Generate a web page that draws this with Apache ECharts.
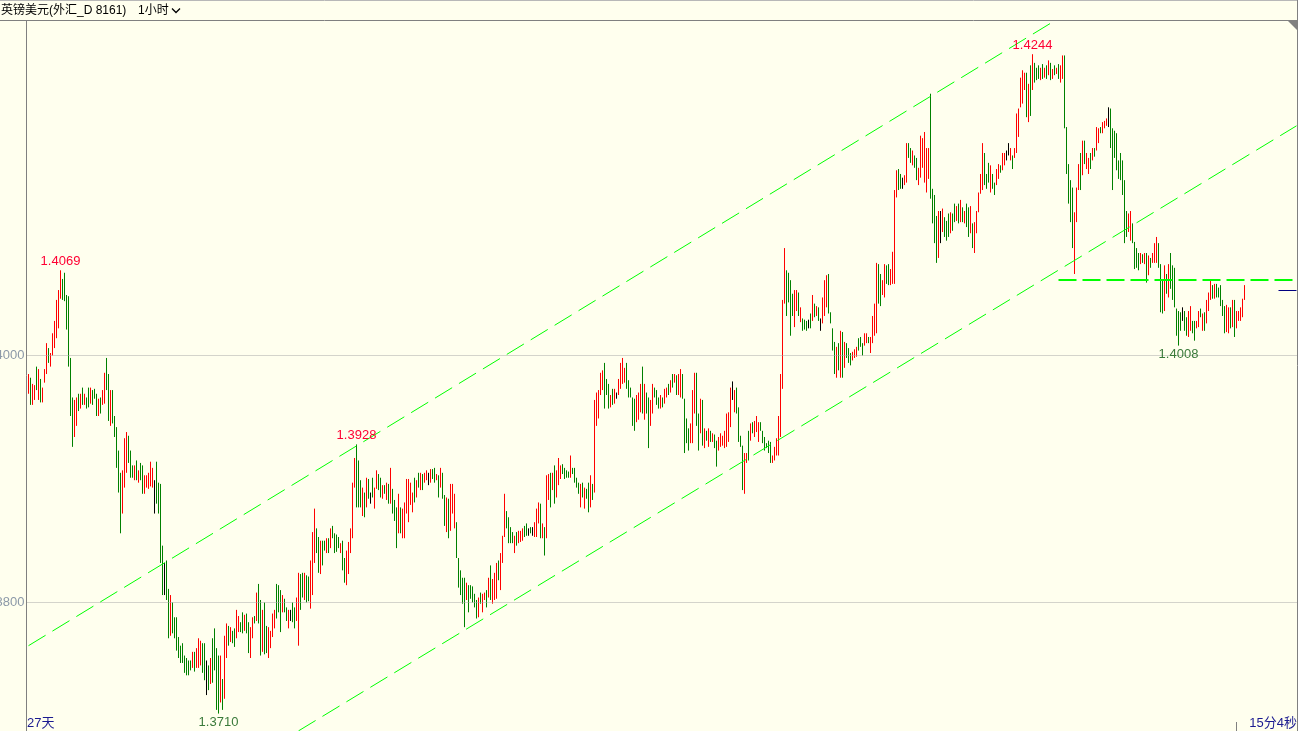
<!DOCTYPE html>
<html><head><meta charset="utf-8">
<script src="https://cdn.jsdelivr.net/npm/echarts@6/dist/echarts.min.js"></script>
<style>html,body{margin:0;padding:0;background:#FFFFEE;overflow:hidden;}#c{width:1298px;height:731px;}</style>
</head><body><div id="c"></div>
<script>
// GBP/USD hourly bars
const opens = [
1.3969,1.3982,1.3960,1.3964,1.3991,1.3964,1.3981,1.3962,1.3978,1.3985,
1.4006,1.3991,1.4000,1.4006,1.4014,1.4022,1.4046,1.4062,1.4067,1.4049,
1.4048,1.3998,1.3966,1.3934,1.3943,1.3969,1.3957,1.3974,1.3960,1.3966,
1.3974,1.3961,1.3972,1.3973,1.3969,1.3951,1.3966,1.3960,1.3961,1.3998,
1.3985,1.3943,1.3972,1.3951,1.3942,1.3923,1.3905,1.3872,1.3893,1.3905,
1.3935,1.3923,1.3911,1.3899,1.3915,1.3897,1.3913,1.3911,1.3888,1.3893,
1.3892,1.3894,1.3893,1.3885,1.3914,1.3897,1.3896,1.3846,1.3819,1.3834,
1.3811,1.3773,1.3800,1.3788,1.3788,1.3772,1.3765,1.3767,1.3757,1.3755,
1.3753,1.3753,1.3747,1.3760,1.3747,1.3747,1.3749,1.3767,1.3767,1.3739,
1.3749,1.3734,1.3771,1.3779,1.3763,1.3757,1.3719,1.3738,1.3722,1.3755,
1.3781,1.3768,1.3777,1.3779,1.3771,1.3776,1.3784,1.3792,1.3777,1.3791,
1.3784,1.3755,1.3771,1.3789,1.3785,1.3815,1.3802,1.3760,1.3800,1.3781,
1.3755,1.3763,1.3772,1.3779,1.3815,1.3814,1.3810,1.3792,1.3803,1.3796,
1.3779,1.3790,1.3800,1.3796,1.3785,1.3765,1.3823,1.3824,1.3802,1.3822,
1.3821,1.3795,1.3806,1.3832,1.3860,1.3853,1.3823,1.3850,1.3850,1.3840,
1.3852,1.3844,1.3862,1.3856,1.3855,1.3853,1.3840,1.3850,1.3836,1.3814,
1.3823,1.3840,1.3852,1.3893,1.3928,1.3915,1.3899,1.3870,1.3889,1.3877,
1.3900,1.3884,1.3901,1.3876,1.3892,1.3904,1.3901,1.3884,1.3895,1.3883,
1.3896,1.3880,1.3892,1.3883,1.3877,1.3856,1.3877,1.3852,1.3852,1.3872,
1.3865,1.3879,1.3873,1.3901,1.3885,1.3905,1.3891,1.3904,1.3897,1.3899,
1.3900,1.3897,1.3908,1.3909,1.3899,1.3903,1.3893,1.3905,1.3887,1.3857,
1.3884,1.3858,1.3872,1.3860,1.3865,1.3836,1.3826,1.3820,1.3820,1.3802,
1.3814,1.3814,1.3813,1.3807,1.3802,1.3788,1.3808,1.3792,1.3802,1.3810,
1.3804,1.3830,1.3799,1.3802,1.3803,1.3834,1.3810,1.3832,1.3853,1.3874,
1.3869,1.3861,1.3857,1.3840,1.3857,1.3848,1.3849,1.3850,1.3862,1.3864,
1.3857,1.3861,1.3857,1.3853,1.3853,1.3864,1.3880,1.3852,1.3861,1.3852,
1.3883,1.3905,1.3891,1.3911,1.3885,1.3895,1.3900,1.3912,1.3909,1.3907,
1.3906,1.3901,1.3909,1.3909,1.3901,1.3897,1.3877,1.3897,1.3876,1.3892,
1.3897,1.3877,1.3896,1.3889,1.3943,1.3949,1.3968,1.3972,1.3994,1.3981,
1.3977,1.3958,1.3973,1.3961,1.3967,1.3968,1.3973,1.3977,1.3978,1.3994,
1.3980,1.3974,1.3966,1.3965,1.3946,1.3948,1.3954,1.3991,1.3948,1.3970,
1.3966,1.3943,1.3953,1.3974,1.3972,1.3966,1.3957,1.3966,1.3961,1.3966,
1.3977,1.3970,1.3985,1.3978,1.3984,1.3968,1.3966,1.3985,1.3965,1.3949,
1.3941,1.3929,1.3929,1.3953,1.3986,1.3953,1.3937,1.3964,1.3925,1.3939,
1.3926,1.3939,1.3930,1.3936,1.3931,1.3923,1.3926,1.3927,1.3925,1.3926,
1.3930,1.3942,1.3971,1.3954,1.3974,1.3958,1.3935,1.3927,1.3888,1.3913,
1.3939,1.3931,1.3946,1.3934,1.3938,1.3930,1.3946,1.3939,1.3934,1.3929,
1.3931,1.3930,1.3913,1.3915,1.3919,1.3919,1.3934,1.3973,1.4042,1.4069,
1.4067,1.4061,1.4050,1.4023,1.4036,1.4051,1.4027,1.4030,1.4029,1.4028,
1.4025,1.4034,1.4028,1.4042,1.4032,1.4039,1.4025,1.4026,1.4032,1.4039,
1.4066,1.4035,1.4022,1.4011,1.3982,1.4010,1.3982,1.4019,1.3990,1.4010,
1.4006,1.4002,1.3996,1.3998,1.3999,1.4014,1.4015,1.4010,1.4008,1.4010,
1.4015,1.4002,1.4010,1.4016,1.4018,1.4074,1.4066,1.4049,1.4047,1.4073,
1.4074,1.4057,1.4058,1.4058,1.4128,1.4151,1.4147,1.4140,1.4138,1.4140,
1.4172,1.4168,1.4154,1.4162,1.4160,1.4138,1.4144,1.4152,1.4140,1.4132,
1.4143,1.4212,1.4135,1.4130,1.4113,1.4079,1.4104,1.4100,1.4112,1.4109,
1.4115,1.4099,1.4115,1.4123,1.4109,1.4123,1.4108,1.4120,1.4107,1.4123,
1.4120,1.4099,1.4107,1.4083,1.4099,1.4116,1.4131,1.4134,1.4164,1.4147,
1.4156,1.4132,1.4147,1.4140,1.4138,1.4143,1.4154,1.4150,1.4154,1.4162,
1.4167,1.4158,1.4162,1.4160,1.4164,1.4177,1.4201,1.4204,1.4215,1.4229,
1.4189,1.4235,1.4215,1.4237,1.4233,1.4235,1.4223,1.4236,1.4225,1.4235,
1.4227,1.4237,1.4224,1.4235,1.4228,1.4236,1.4221,1.4224,1.4243,1.4185,
1.4155,1.4142,1.4136,1.4066,1.4108,1.4134,1.4164,1.4146,1.4174,1.4151,
1.4147,1.4164,1.4158,1.4168,1.4166,1.4172,1.4185,1.4180,1.4184,1.4186,
1.4193,1.4200,1.4184,1.4182,1.4180,1.4158,1.4164,1.4158,1.4142,1.4117,
1.4100,1.4093,1.4107,1.4092,1.4087,1.4083,1.4074,1.4082,1.4074,1.4083,
1.4065,1.4079,1.4075,1.4075,1.4075,1.4091,1.4074,1.4061,1.4036,1.4066,
1.4047,1.4083,1.4073,1.4071,1.4038,1.4036,1.4035,1.4033,1.4036,1.4031,
1.4015,1.4020,1.4028,1.4028,1.4022,1.4023,1.4038,1.4020,1.4035,1.4026,
1.4036,1.4045,1.4057,1.4046,1.4058,1.4055,1.4057,1.4045,1.4040,1.4019,
1.4018,1.4039,1.4023,1.4045,1.4022,1.4028,1.4028,1.4031,1.4045
];
const highs = [
1.3985,1.3982,1.3977,1.3976,1.3991,1.3989,1.3981,1.3974,1.3989,1.4010,
1.4006,1.4002,1.4018,1.4028,1.4045,1.4053,1.4069,1.4062,1.4067,1.4049,
1.4048,1.3998,1.3966,1.3964,1.3966,1.3969,1.3969,1.3974,1.3969,1.3966,
1.3974,1.3974,1.3972,1.3973,1.3969,1.3965,1.3966,1.3972,1.3986,1.3998,
1.3985,1.3972,1.3972,1.3951,1.3942,1.3923,1.3905,1.3907,1.3933,1.3938,
1.3935,1.3923,1.3911,1.3911,1.3915,1.3907,1.3913,1.3911,1.3903,1.3903,
1.3905,1.3914,1.3909,1.3899,1.3914,1.3897,1.3896,1.3846,1.3832,1.3834,
1.3811,1.3806,1.3800,1.3788,1.3788,1.3772,1.3765,1.3767,1.3757,1.3755,
1.3753,1.3753,1.3760,1.3760,1.3763,1.3771,1.3769,1.3767,1.3767,1.3753,
1.3749,1.3755,1.3771,1.3779,1.3763,1.3757,1.3757,1.3738,1.3773,1.3783,
1.3781,1.3780,1.3777,1.3779,1.3794,1.3789,1.3784,1.3792,1.3790,1.3791,
1.3784,1.3780,1.3788,1.3789,1.3808,1.3815,1.3802,1.3794,1.3800,1.3781,
1.3780,1.3777,1.3791,1.3794,1.3815,1.3814,1.3810,1.3806,1.3803,1.3796,
1.3794,1.3794,1.3800,1.3796,1.3804,1.3824,1.3823,1.3824,1.3824,1.3822,
1.3821,1.3834,1.3857,1.3876,1.3860,1.3853,1.3850,1.3850,1.3850,1.3852,
1.3852,1.3860,1.3862,1.3856,1.3855,1.3853,1.3848,1.3850,1.3836,1.3842,
1.3849,1.3860,1.3897,1.3917,1.3928,1.3915,1.3899,1.3893,1.3889,1.3901,
1.3900,1.3889,1.3901,1.3893,1.3907,1.3904,1.3901,1.3895,1.3895,1.3897,
1.3896,1.3909,1.3892,1.3883,1.3877,1.3888,1.3877,1.3876,1.3881,1.3900,
1.3900,1.3897,1.3889,1.3901,1.3899,1.3905,1.3905,1.3904,1.3905,1.3907,
1.3905,1.3908,1.3908,1.3909,1.3904,1.3903,1.3909,1.3905,1.3887,1.3885,
1.3884,1.3896,1.3896,1.3888,1.3865,1.3836,1.3826,1.3820,1.3820,1.3816,
1.3814,1.3814,1.3813,1.3807,1.3802,1.3804,1.3808,1.3807,1.3808,1.3810,
1.3820,1.3830,1.3819,1.3824,1.3832,1.3834,1.3840,1.3854,1.3888,1.3874,
1.3869,1.3861,1.3857,1.3854,1.3857,1.3858,1.3858,1.3860,1.3862,1.3864,
1.3860,1.3861,1.3861,1.3865,1.3876,1.3881,1.3880,1.3864,1.3861,1.3903,
1.3904,1.3905,1.3905,1.3911,1.3907,1.3917,1.3911,1.3912,1.3909,1.3907,
1.3906,1.3919,1.3909,1.3909,1.3901,1.3897,1.3896,1.3897,1.3893,1.3892,
1.3897,1.3903,1.3896,1.3964,1.3970,1.3972,1.3986,1.3988,1.3994,1.3981,
1.3977,1.3968,1.3973,1.3973,1.3970,1.3981,1.3994,1.3998,1.3990,1.3994,
1.3980,1.3974,1.3966,1.3965,1.3968,1.3970,1.3977,1.3991,1.3977,1.3970,
1.3966,1.3964,1.3977,1.3974,1.3972,1.3966,1.3968,1.3966,1.3973,1.3974,
1.3977,1.3980,1.3985,1.3985,1.3984,1.3985,1.3989,1.3985,1.3965,1.3949,
1.3941,1.3945,1.3972,1.3986,1.3986,1.3953,1.3965,1.3964,1.3941,1.3939,
1.3941,1.3939,1.3937,1.3936,1.3931,1.3934,1.3937,1.3935,1.3939,1.3953,
1.3954,1.3974,1.3979,1.3972,1.3974,1.3958,1.3935,1.3927,1.3921,1.3921,
1.3939,1.3945,1.3946,1.3947,1.3951,1.3946,1.3946,1.3939,1.3934,1.3929,
1.3931,1.3930,1.3919,1.3926,1.3933,1.3951,1.3985,1.4045,1.4087,1.4069,
1.4067,1.4061,1.4050,1.4053,1.4053,1.4051,1.4039,1.4030,1.4029,1.4028,
1.4029,1.4034,1.4049,1.4042,1.4040,1.4039,1.4030,1.4047,1.4061,1.4065,
1.4066,1.4035,1.4022,1.4011,1.4007,1.4010,1.4020,1.4019,1.4011,1.4010,
1.4006,1.4002,1.4003,1.4005,1.4007,1.4014,1.4015,1.4010,1.4018,1.4018,
1.4015,1.4015,1.4032,1.4042,1.4075,1.4074,1.4066,1.4061,1.4074,1.4073,
1.4074,1.4070,1.4084,1.4134,1.4150,1.4151,1.4147,1.4144,1.4146,1.4172,
1.4172,1.4168,1.4166,1.4162,1.4160,1.4152,1.4178,1.4176,1.4181,1.4168,
1.4168,1.4212,1.4135,1.4130,1.4113,1.4117,1.4117,1.4119,1.4112,1.4109,
1.4115,1.4116,1.4115,1.4123,1.4121,1.4123,1.4126,1.4120,1.4117,1.4123,
1.4120,1.4121,1.4107,1.4108,1.4117,1.4132,1.4147,1.4172,1.4164,1.4147,
1.4156,1.4154,1.4147,1.4140,1.4151,1.4155,1.4154,1.4164,1.4164,1.4166,
1.4172,1.4168,1.4162,1.4168,1.4196,1.4200,1.4225,1.4231,1.4229,1.4229,
1.4220,1.4235,1.4244,1.4237,1.4233,1.4235,1.4233,1.4236,1.4233,1.4235,
1.4239,1.4237,1.4232,1.4235,1.4233,1.4236,1.4235,1.4243,1.4243,1.4185,
1.4155,1.4142,1.4136,1.4116,1.4136,1.4155,1.4164,1.4174,1.4174,1.4164,
1.4160,1.4164,1.4168,1.4168,1.4185,1.4184,1.4185,1.4189,1.4190,1.4192,
1.4201,1.4200,1.4184,1.4182,1.4180,1.4158,1.4164,1.4158,1.4142,1.4117,
1.4115,1.4117,1.4107,1.4092,1.4087,1.4083,1.4083,1.4082,1.4083,1.4083,
1.4081,1.4079,1.4083,1.4091,1.4096,1.4091,1.4074,1.4061,1.4073,1.4066,
1.4074,1.4083,1.4073,1.4071,1.4038,1.4036,1.4035,1.4039,1.4036,1.4031,
1.4036,1.4040,1.4028,1.4028,1.4028,1.4036,1.4038,1.4034,1.4035,1.4045,
1.4051,1.4061,1.4057,1.4058,1.4058,1.4055,1.4057,1.4045,1.4040,1.4041,
1.4039,1.4039,1.4045,1.4045,1.4036,1.4036,1.4039,1.4046,1.4057
];
const lows = [
1.3969,1.3960,1.3960,1.3964,1.3972,1.3964,1.3962,1.3962,1.3978,1.3985,
1.3994,1.3991,1.4000,1.4006,1.4014,1.4022,1.4046,1.4045,1.4044,1.4021,
1.3991,1.3951,1.3926,1.3934,1.3943,1.3955,1.3957,1.3960,1.3960,1.3957,
1.3958,1.3961,1.3960,1.3965,1.3951,1.3951,1.3953,1.3960,1.3961,1.3972,
1.3947,1.3943,1.3945,1.3934,1.3909,1.3889,1.3856,1.3872,1.3893,1.3905,
1.3913,1.3901,1.3901,1.3899,1.3899,1.3897,1.3899,1.3888,1.3888,1.3893,
1.3892,1.3894,1.3893,1.3872,1.3880,1.3872,1.3832,1.3806,1.3806,1.3802,
1.3771,1.3773,1.3775,1.3771,1.3761,1.3755,1.3751,1.3751,1.3743,1.3741,
1.3741,1.3745,1.3747,1.3744,1.3747,1.3747,1.3749,1.3743,1.3737,1.3725,
1.3729,1.3734,1.3735,1.3745,1.3713,1.3710,1.3719,1.3713,1.3722,1.3755,
1.3765,1.3768,1.3767,1.3764,1.3771,1.3776,1.3776,1.3775,1.3777,1.3775,
1.3759,1.3755,1.3771,1.3783,1.3785,1.3783,1.3757,1.3760,1.3758,1.3759,
1.3755,1.3763,1.3772,1.3779,1.3787,1.3792,1.3776,1.3792,1.3792,1.3785,
1.3779,1.3785,1.3784,1.3779,1.3785,1.3765,1.3794,1.3804,1.3802,1.3800,
1.3801,1.3795,1.3806,1.3832,1.3840,1.3824,1.3823,1.3830,1.3842,1.3840,
1.3840,1.3844,1.3852,1.3840,1.3841,1.3844,1.3840,1.3826,1.3816,1.3814,
1.3823,1.3840,1.3852,1.3893,1.3877,1.3877,1.3877,1.3870,1.3869,1.3877,
1.3884,1.3880,1.3885,1.3876,1.3892,1.3891,1.3885,1.3884,1.3888,1.3883,
1.3880,1.3880,1.3872,1.3866,1.3844,1.3856,1.3856,1.3852,1.3852,1.3872,
1.3865,1.3879,1.3873,1.3881,1.3885,1.3893,1.3891,1.3891,1.3897,1.3899,
1.3895,1.3897,1.3900,1.3897,1.3899,1.3885,1.3893,1.3884,1.3862,1.3857,
1.3852,1.3858,1.3872,1.3860,1.3836,1.3812,1.3806,1.3799,1.3780,1.3802,
1.3792,1.3803,1.3800,1.3796,1.3787,1.3788,1.3799,1.3792,1.3802,1.3796,
1.3804,1.3802,1.3799,1.3802,1.3803,1.3818,1.3810,1.3832,1.3853,1.3860,
1.3848,1.3848,1.3848,1.3840,1.3846,1.3848,1.3849,1.3850,1.3853,1.3854,
1.3854,1.3856,1.3854,1.3853,1.3853,1.3864,1.3852,1.3852,1.3838,1.3852,
1.3883,1.3877,1.3891,1.3880,1.3885,1.3895,1.3900,1.3904,1.3900,1.3901,
1.3901,1.3901,1.3904,1.3897,1.3893,1.3888,1.3877,1.3885,1.3876,1.3884,
1.3873,1.3877,1.3883,1.3889,1.3943,1.3949,1.3968,1.3972,1.3957,1.3968,
1.3957,1.3958,1.3960,1.3961,1.3965,1.3968,1.3973,1.3977,1.3978,1.3973,
1.3966,1.3966,1.3943,1.3939,1.3946,1.3948,1.3954,1.3953,1.3948,1.3953,
1.3925,1.3943,1.3953,1.3966,1.3960,1.3957,1.3957,1.3958,1.3961,1.3966,
1.3968,1.3970,1.3974,1.3978,1.3968,1.3968,1.3966,1.3965,1.3921,1.3929,
1.3923,1.3929,1.3929,1.3953,1.3943,1.3923,1.3937,1.3927,1.3925,1.3931,
1.3926,1.3930,1.3930,1.3925,1.3910,1.3923,1.3926,1.3927,1.3925,1.3926,
1.3930,1.3942,1.3964,1.3954,1.3953,1.3930,1.3926,1.3891,1.3888,1.3913,
1.3915,1.3931,1.3937,1.3934,1.3938,1.3930,1.3939,1.3929,1.3923,1.3925,
1.3921,1.3913,1.3913,1.3915,1.3919,1.3919,1.3934,1.3973,1.4042,1.4032,
1.4043,1.4016,1.4032,1.4023,1.4036,1.4032,1.4027,1.4020,1.4021,1.4020,
1.4022,1.4022,1.4028,1.4031,1.4032,1.4028,1.4020,1.4026,1.4032,1.4039,
1.4034,1.4026,1.4004,1.3985,1.3982,1.3988,1.3982,1.3982,1.3990,1.3998,
1.3994,1.3992,1.3996,1.3998,1.3999,1.4004,1.4007,1.4000,1.4008,1.4010,
1.4010,1.4002,1.4010,1.4016,1.4018,1.4042,1.4040,1.4049,1.4047,1.4058,
1.4057,1.4057,1.4058,1.4058,1.4128,1.4134,1.4135,1.4135,1.4138,1.4140,
1.4160,1.4156,1.4154,1.4152,1.4142,1.4138,1.4144,1.4152,1.4140,1.4132,
1.4143,1.4127,1.4107,1.4091,1.4075,1.4079,1.4091,1.4100,1.4096,1.4093,
1.4096,1.4099,1.4101,1.4108,1.4109,1.4107,1.4108,1.4108,1.4107,1.4104,
1.4096,1.4099,1.4087,1.4083,1.4099,1.4116,1.4131,1.4134,1.4138,1.4135,
1.4140,1.4132,1.4135,1.4130,1.4138,1.4143,1.4148,1.4150,1.4154,1.4158,
1.4162,1.4158,1.4151,1.4160,1.4164,1.4177,1.4201,1.4204,1.4215,1.4193,
1.4189,1.4194,1.4215,1.4221,1.4223,1.4224,1.4223,1.4224,1.4225,1.4224,
1.4227,1.4223,1.4224,1.4227,1.4228,1.4224,1.4221,1.4224,1.4184,1.4147,
1.4123,1.4108,1.4087,1.4066,1.4108,1.4134,1.4134,1.4146,1.4155,1.4151,
1.4147,1.4151,1.4158,1.4161,1.4166,1.4172,1.4180,1.4180,1.4184,1.4186,
1.4185,1.4168,1.4134,1.4160,1.4150,1.4143,1.4142,1.4130,1.4091,1.4096,
1.4100,1.4093,1.4091,1.4070,1.4071,1.4069,1.4074,1.4075,1.4074,1.4059,
1.4065,1.4071,1.4075,1.4075,1.4075,1.4071,1.4035,1.4034,1.4036,1.4050,
1.4047,1.4054,1.4045,1.4039,1.4016,1.4008,1.4020,1.4028,1.4020,1.4016,
1.4015,1.4020,1.4018,1.4012,1.4022,1.4023,1.4031,1.4020,1.4020,1.4026,
1.4036,1.4045,1.4046,1.4046,1.4047,1.4047,1.4040,1.4032,1.4018,1.4019,
1.4018,1.4022,1.4023,1.4015,1.4022,1.4028,1.4028,1.4031,1.4045
];
const closes = [
1.3985,1.3960,1.3977,1.3976,1.3972,1.3989,1.3962,1.3974,1.3989,1.4010,
1.3994,1.4002,1.4018,1.4028,1.4045,1.4053,1.4069,1.4045,1.4044,1.4021,
1.3991,1.3951,1.3926,1.3964,1.3966,1.3955,1.3969,1.3960,1.3969,1.3957,
1.3958,1.3974,1.3960,1.3965,1.3951,1.3965,1.3953,1.3972,1.3986,1.3972,
1.3947,1.3972,1.3945,1.3934,1.3909,1.3889,1.3856,1.3907,1.3933,1.3938,
1.3913,1.3901,1.3901,1.3911,1.3899,1.3907,1.3899,1.3888,1.3903,1.3903,
1.3905,1.3914,1.3909,1.3885,1.3880,1.3872,1.3832,1.3806,1.3819,1.3802,
1.3771,1.3806,1.3775,1.3771,1.3761,1.3755,1.3751,1.3751,1.3743,1.3741,
1.3741,1.3745,1.3760,1.3744,1.3763,1.3771,1.3769,1.3743,1.3737,1.3739,
1.3729,1.3755,1.3735,1.3745,1.3713,1.3710,1.3757,1.3713,1.3773,1.3783,
1.3765,1.3780,1.3767,1.3764,1.3794,1.3789,1.3776,1.3775,1.3790,1.3775,
1.3759,1.3780,1.3788,1.3783,1.3808,1.3783,1.3757,1.3794,1.3758,1.3759,
1.3780,1.3777,1.3791,1.3794,1.3787,1.3792,1.3776,1.3806,1.3792,1.3785,
1.3794,1.3790,1.3784,1.3779,1.3804,1.3824,1.3794,1.3804,1.3824,1.3800,
1.3801,1.3834,1.3857,1.3876,1.3840,1.3824,1.3850,1.3830,1.3842,1.3852,
1.3840,1.3860,1.3852,1.3840,1.3841,1.3844,1.3848,1.3826,1.3816,1.3842,
1.3849,1.3860,1.3897,1.3917,1.3877,1.3877,1.3877,1.3893,1.3869,1.3901,
1.3884,1.3884,1.3885,1.3893,1.3907,1.3891,1.3885,1.3895,1.3888,1.3897,
1.3880,1.3909,1.3872,1.3866,1.3844,1.3888,1.3856,1.3876,1.3881,1.3900,
1.3900,1.3897,1.3889,1.3881,1.3899,1.3893,1.3905,1.3891,1.3905,1.3907,
1.3900,1.3908,1.3900,1.3897,1.3904,1.3885,1.3909,1.3884,1.3862,1.3885,
1.3852,1.3896,1.3896,1.3888,1.3836,1.3812,1.3806,1.3799,1.3780,1.3816,
1.3792,1.3803,1.3800,1.3796,1.3787,1.3804,1.3799,1.3807,1.3808,1.3796,
1.3820,1.3802,1.3819,1.3824,1.3832,1.3818,1.3840,1.3854,1.3888,1.3860,
1.3848,1.3848,1.3848,1.3854,1.3846,1.3858,1.3858,1.3860,1.3853,1.3854,
1.3857,1.3856,1.3857,1.3865,1.3876,1.3881,1.3852,1.3864,1.3838,1.3903,
1.3904,1.3877,1.3905,1.3880,1.3907,1.3917,1.3911,1.3904,1.3900,1.3901,
1.3901,1.3919,1.3904,1.3897,1.3893,1.3888,1.3896,1.3885,1.3893,1.3884,
1.3873,1.3903,1.3883,1.3964,1.3970,1.3972,1.3986,1.3988,1.3957,1.3968,
1.3957,1.3968,1.3960,1.3973,1.3967,1.3981,1.3994,1.3998,1.3990,1.3973,
1.3966,1.3966,1.3943,1.3939,1.3968,1.3970,1.3977,1.3953,1.3977,1.3953,
1.3925,1.3964,1.3977,1.3966,1.3960,1.3957,1.3968,1.3958,1.3973,1.3974,
1.3968,1.3980,1.3974,1.3985,1.3968,1.3985,1.3989,1.3965,1.3921,1.3929,
1.3923,1.3945,1.3972,1.3986,1.3943,1.3923,1.3965,1.3927,1.3941,1.3931,
1.3941,1.3930,1.3937,1.3925,1.3910,1.3934,1.3937,1.3935,1.3939,1.3953,
1.3954,1.3974,1.3971,1.3972,1.3953,1.3930,1.3926,1.3891,1.3921,1.3921,
1.3915,1.3945,1.3937,1.3947,1.3951,1.3946,1.3939,1.3929,1.3923,1.3925,
1.3921,1.3913,1.3919,1.3926,1.3933,1.3951,1.3985,1.4045,1.4087,1.4032,
1.4043,1.4016,1.4032,1.4053,1.4053,1.4032,1.4039,1.4020,1.4021,1.4020,
1.4025,1.4022,1.4049,1.4031,1.4040,1.4028,1.4025,1.4047,1.4061,1.4065,
1.4034,1.4026,1.4004,1.3985,1.4007,1.3988,1.4020,1.3982,1.4011,1.3998,
1.3994,1.3992,1.4003,1.4005,1.4007,1.4004,1.4007,1.4000,1.4018,1.4018,
1.4010,1.4015,1.4032,1.4042,1.4075,1.4042,1.4040,1.4061,1.4074,1.4058,
1.4057,1.4070,1.4084,1.4134,1.4150,1.4134,1.4135,1.4140,1.4146,1.4172,
1.4160,1.4156,1.4166,1.4152,1.4142,1.4152,1.4178,1.4176,1.4181,1.4168,
1.4168,1.4127,1.4107,1.4091,1.4075,1.4117,1.4104,1.4119,1.4096,1.4093,
1.4096,1.4116,1.4101,1.4108,1.4121,1.4107,1.4126,1.4108,1.4117,1.4104,
1.4096,1.4121,1.4087,1.4108,1.4117,1.4132,1.4147,1.4172,1.4138,1.4135,
1.4140,1.4154,1.4135,1.4130,1.4151,1.4155,1.4148,1.4164,1.4164,1.4162,
1.4167,1.4168,1.4151,1.4168,1.4196,1.4200,1.4225,1.4231,1.4229,1.4193,
1.4220,1.4194,1.4244,1.4221,1.4223,1.4224,1.4233,1.4224,1.4233,1.4224,
1.4239,1.4223,1.4232,1.4227,1.4233,1.4224,1.4235,1.4243,1.4184,1.4147,
1.4123,1.4108,1.4087,1.4116,1.4136,1.4155,1.4134,1.4174,1.4155,1.4164,
1.4160,1.4151,1.4168,1.4161,1.4185,1.4184,1.4180,1.4189,1.4190,1.4192,
1.4193,1.4168,1.4134,1.4160,1.4150,1.4143,1.4142,1.4130,1.4091,1.4096,
1.4115,1.4117,1.4091,1.4070,1.4071,1.4069,1.4083,1.4075,1.4083,1.4059,
1.4081,1.4071,1.4083,1.4091,1.4096,1.4071,1.4035,1.4034,1.4073,1.4050,
1.4074,1.4054,1.4045,1.4039,1.4016,1.4008,1.4020,1.4033,1.4020,1.4016,
1.4036,1.4040,1.4018,1.4012,1.4028,1.4036,1.4031,1.4034,1.4020,1.4045,
1.4051,1.4061,1.4046,1.4058,1.4047,1.4047,1.4040,1.4032,1.4018,1.4041,
1.4039,1.4022,1.4045,1.4015,1.4036,1.4036,1.4039,1.4046,1.4053
];
// time slots on the x axis (bars plus the empty space to the right)
const slotCount = 635;
const categories = [];
for (let i = 0; i < slotCount; i++) categories.push(String(i));
// y axis tick values shown
const tickValues = [1.38, 1.40];
// labelled extremes (bar indices)
const peakIdx = [16, 164, 502];
const troughIdx = [95, 575];
// drawn trend lines: [barIndex, price]
const upperChannel = [[0, 1.3765], [512, 1.4270]];
const lowerChannel = [[135, 1.3696], [634, 1.4186]];
const resistanceLine = [[515, 1.4061], [634, 1.4061]];
const lastPriceLine = [[625, 1.4053], [634, 1.4053]];
// texts
const titleText = '英镑美元(外汇_D 8161)';
const periodText = '1小时';
const spanText = '27天';
const timerText = '15分4秒';

const candles = opens.map((o, i) => [o, closes[i], lows[i], highs[i]]);

const chart = echarts.init(document.getElementById('c'), null, {renderer: 'canvas'});
const LAB = '"Liberation Sans", Arial, sans-serif';
const CJK = '"Liberation Sans", "Noto Sans CJK SC", sans-serif';

function seg(pair, style) {
  return [{coord: pair[0], lineStyle: style}, {coord: pair[1], lineStyle: style}];
}
const chanStyle = {color: '#00FF00', width: 1, type: [20, 8]};
const resStyle = {color: '#00FF00', width: 2, type: [18, 6]};
const gridStyle = {color: '#A8A8A8', width: 1, type: [1, 1]};

const markPoints = [];
peakIdx.forEach(i => markPoints.push({
  coord: [i, highs[i]], value: highs[i].toFixed(4),
  label: {position: 'top', distance: 2, color: '#FF0033'}
}));
troughIdx.forEach(i => markPoints.push({
  coord: [i, lows[i]], value: lows[i].toFixed(4),
  label: {position: 'bottom', distance: 2, color: '#3A7A3A'}
}));

chart.setOption({
  animation: false,
  backgroundColor: '#FFFFEE',
  grid: {left: 27.5, right: 0.5, top: 20, bottom: 0, containLabel: false, outerBoundsMode: 'none'},
  xAxis: {
    type: 'category', data: categories, boundaryGap: true,
    axisLine: {show: false}, axisTick: {show: false}, axisLabel: {show: false}, splitLine: {show: false}
  },
  yAxis: {
    type: 'value', min: 1.36959, max: 1.42717,
    axisLine: {show: false}, axisTick: {show: false}, splitLine: {show: false},
    axisLabel: {
      show: true, customValues: tickValues, margin: 3,
      formatter: v => Number(v).toFixed(4),
      color: '#8C99A8', fontSize: 13, fontFamily: LAB
    }
  },
  series: [{
    type: 'candlestick',
    data: candles,
    large: true, largeThreshold: 100,
    itemStyle: {
      color: '#FF0000', color0: '#008000',
      borderColor: '#FF0000', borderColor0: '#008000',
      borderColorDoji: '#000000', borderWidth: 1
    },
    markLine: {
      silent: true, animation: false, symbol: ['none', 'none'],
      label: {show: false}, emphasis: {disabled: true},
      data: [
        {yAxis: tickValues[0], lineStyle: gridStyle},
        {yAxis: tickValues[1], lineStyle: gridStyle},
        seg(upperChannel, chanStyle),
        seg(lowerChannel, chanStyle),
        seg(resistanceLine, resStyle),
        seg(lastPriceLine, {color: '#000080', width: 1, type: 'solid'})
      ]
    },
    markPoint: {
      silent: true, animation: false,
      symbol: 'rect', symbolSize: [1, 1],
      itemStyle: {color: 'rgba(0,0,0,0)'},
      label: {show: true, formatter: p => p.value, fontSize: 13, fontFamily: LAB},
      data: markPoints
    }
  }],
  graphic: [
    {type: 'line', silent: true, shape: {x1: 0, y1: 0.5, x2: 1298, y2: 0.5}, style: {stroke: '#B8B8B8', lineWidth: 1}},
    {type: 'line', silent: true, shape: {x1: 0, y1: 20.5, x2: 1298, y2: 20.5}, style: {stroke: '#808080', lineWidth: 1}},
    {type: 'line', silent: true, shape: {x1: 26.5, y1: 20, x2: 26.5, y2: 731}, style: {stroke: '#808080', lineWidth: 1}},
    {type: 'line', silent: true, shape: {x1: 1297.5, y1: 0, x2: 1297.5, y2: 731}, style: {stroke: '#808080', lineWidth: 1}},
    {type: 'polygon', silent: true, shape: {points: [[1288, 21], [1297, 21], [1297, 30]]}, style: {fill: '#808080'}},
    {type: 'line', silent: true, shape: {x1: 1236.5, y1: 722, x2: 1236.5, y2: 731}, style: {stroke: '#808080', lineWidth: 1}},
    {type: 'text', silent: true, x: 1, y: 11, style: {text: titleText, font: '12px ' + CJK, fill: '#000000', verticalAlign: 'middle'}},
    {type: 'text', silent: true, x: 138, y: 11, style: {text: periodText, font: '12px ' + CJK, fill: '#000000', verticalAlign: 'middle'}},
    {type: 'polyline', silent: true, shape: {points: [[172, 8.5], [176, 12.5], [180, 8.5]]}, style: {stroke: '#000000', lineWidth: 1.3, fill: null}},
    {type: 'text', silent: true, x: 27, y: 723, style: {text: spanText, font: '13px ' + CJK, fill: '#1A1A90', verticalAlign: 'middle'}},
    {type: 'text', silent: true, x: 1297, y: 723, style: {text: timerText, font: '13px ' + CJK, fill: '#1A1A90', align: 'right', verticalAlign: 'middle'}}
  ]
});
</script>
</body></html>
